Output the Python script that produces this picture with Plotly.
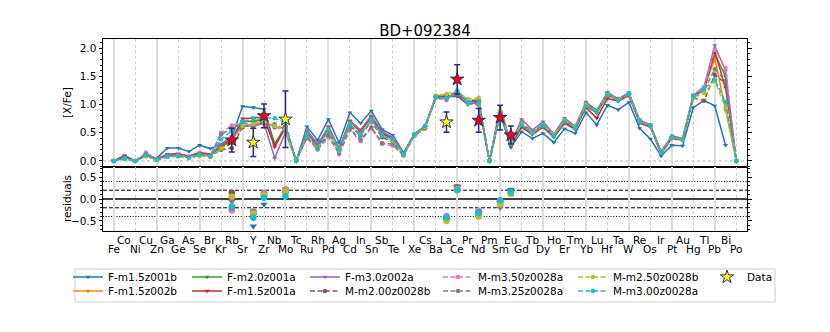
import plotly.graph_objects as go

# ---------------- data ----------------
elements = ["Fe", "Co", "Ni", "Cu", "Zn", "Ga", "Ge", "As", "Se", "Br",
            "Kr", "Rb", "Sr", "Y", "Zr", "Nb", "Mo", "Tc", "Ru", "Rh",
            "Pd", "Ag", "Cd", "In", "Sn", "Sb", "Te", "I", "Xe", "Cs",
            "Ba", "La", "Ce", "Pr", "Nd", "Pm", "Sm", "Eu", "Gd", "Tb",
            "Dy", "Ho", "Er", "Tm", "Yb", "Lu", "Hf", "Ta", "W", "Re",
            "Os", "Ir", "Pt", "Au", "Hg", "Tl", "Pb", "Bi", "Po"]
z_numbers = list(range(26, 85))

f_m15z001b = [0.00, 0.10, 0.00, 0.10, 0.05, 0.23, 0.23, 0.17, 0.28, 0.22,
              0.30, 0.42, 0.97, 0.95, 0.92, 0.30, 0.62, 0.00, 0.61, 0.37,
              0.74, 0.32, 0.86, 0.67, 0.89, 0.56, 0.46, 0.15, 0.48, 0.62,
              1.12, 1.14, 1.15, 1.00, 1.05, 0.00, 0.85, 0.24, 0.52, 0.40,
              0.49, 0.33, 0.57, 0.49, 0.86, 0.64, 0.99, 0.91, 1.04, 0.58,
              0.39, 0.09, 0.28, 0.27, 0.95, 1.07, 0.98, 0.28, None]
f_m15z002b = [0.00, 0.08, 0.00, 0.10, 0.03, 0.11, 0.12, 0.08, 0.14, 0.11,
              0.25, 0.35, 0.70, 0.71, 0.75, 0.28, 0.62, 0.00, 0.52, 0.27,
              0.62, 0.22, 0.72, 0.55, 0.80, 0.50, 0.42, 0.12, 0.46, 0.60,
              1.16, 1.14, 1.18, 1.06, 1.04, 0.00, 0.87, 0.28, 0.65, 0.50,
              0.65, 0.45, 0.72, 0.60, 1.00, 0.88, 1.18, 1.08, 1.20, 0.70,
              0.63, 0.15, 0.42, 0.39, 1.15, 1.28, 1.82, 0.90, 0.00]
f_m20z001a = [0.00, 0.07, 0.00, 0.10, 0.03, 0.10, 0.12, 0.08, 0.13, 0.10,
              0.25, 0.37, 0.70, 0.70, 0.74, 0.30, 0.60, 0.00, 0.50, 0.25,
              0.60, 0.20, 0.70, 0.53, 0.78, 0.50, 0.40, 0.12, 0.46, 0.60,
              1.15, 1.15, 1.18, 1.05, 1.05, 0.00, 0.87, 0.29, 0.63, 0.50,
              0.64, 0.44, 0.70, 0.58, 0.98, 0.85, 1.17, 1.08, 1.19, 0.70,
              0.62, 0.15, 0.42, 0.38, 1.15, 1.30, 1.90, 1.50, 0.00]
f_m15z001a = [0.00, 0.08, 0.00, 0.11, 0.04, 0.12, 0.13, 0.09, 0.15, 0.12,
              0.28, 0.39, 0.75, 0.77, 0.78, 0.25, 0.59, 0.00, 0.50, 0.25,
              0.60, 0.20, 0.70, 0.52, 0.78, 0.48, 0.40, 0.12, 0.46, 0.60,
              1.13, 1.13, 1.18, 1.04, 1.04, 0.00, 0.85, 0.27, 0.60, 0.47,
              0.60, 0.42, 0.67, 0.56, 0.95, 0.76, 1.11, 1.06, 1.16, 0.67,
              0.60, 0.13, 0.40, 0.37, 1.13, 1.28, 1.94, 1.30, 0.00]
f_m30z002a = [0.00, 0.06, 0.00, 0.12, 0.03, 0.10, 0.11, 0.07, 0.12, 0.10,
              0.30, 0.43, 0.62, 0.62, 0.67, 0.05, 0.51, 0.00, 0.55, 0.30,
              0.60, 0.22, 0.70, 0.55, 0.80, 0.52, 0.42, 0.13, 0.47, 0.60,
              1.12, 1.12, 1.19, 1.06, 1.01, 0.00, 0.97, 0.32, 0.74, 0.55,
              0.70, 0.48, 0.76, 0.62, 1.05, 0.90, 1.22, 1.10, 1.21, 0.73,
              0.64, 0.17, 0.45, 0.40, 1.17, 1.32, 2.05, 1.60, 0.00]
m_m200z0028b = [0.00, 0.05, 0.00, 0.09, 0.02, 0.08, 0.09, 0.06, 0.10, 0.08,
                0.20, 0.23, 0.60, 0.66, 0.69, 0.60, 0.58, 0.00, 0.45, 0.22,
                0.50, 0.18, 0.62, 0.45, 0.70, 0.42, 0.34, 0.10, 0.45, 0.58,
                1.14, 1.16, 1.21, 1.08, 1.08, 0.00, 0.89, 0.33, 0.62, 0.50,
                0.62, 0.45, 0.70, 0.60, 0.98, 0.88, 1.18, 1.08, 1.18, 0.70,
                0.62, 0.15, 0.42, 0.38, 1.12, 1.07, 1.53, 1.38, 0.00]
m_m350z0028a = [0.00, 0.04, 0.00, 0.15, 0.03, 0.09, 0.10, 0.07, 0.12, 0.09,
                0.50, 0.63, 0.68, 0.61, 0.66, 0.62, 0.52, 0.00, 0.40, 0.20,
                0.42, 0.12, 0.55, 0.35, 0.58, 0.30, 0.27, 0.10, 0.45, 0.58,
                1.12, 1.08, 1.23, 1.02, 0.99, 0.00, 0.82, 0.34, 0.68, 0.52,
                0.65, 0.46, 0.72, 0.60, 1.00, 0.88, 1.20, 1.10, 1.20, 0.72,
                0.63, 0.16, 0.43, 0.39, 1.17, 1.30, 1.98, 1.65, 0.00]
m_m325z0028a = [0.00, 0.05, 0.00, 0.12, 0.03, 0.09, 0.10, 0.07, 0.12, 0.09,
                0.47, 0.57, 0.68, 0.63, 0.68, 0.65, 0.56, 0.00, 0.42, 0.22,
                0.45, 0.14, 0.57, 0.38, 0.60, 0.32, 0.30, 0.10, 0.45, 0.58,
                1.13, 1.11, 1.22, 1.04, 1.02, 0.00, 0.83, 0.34, 0.67, 0.52,
                0.65, 0.46, 0.72, 0.60, 1.02, 0.90, 1.20, 1.10, 1.20, 0.72,
                0.63, 0.16, 0.43, 0.39, 1.15, 1.25, 1.63, 1.42, 0.00]
m_m250z0028b = [0.00, 0.04, 0.00, 0.08, 0.02, 0.07, 0.08, 0.05, 0.09, 0.07,
                0.22, 0.32, 0.62, 0.66, 0.70, 0.62, 0.57, 0.00, 0.47, 0.23,
                0.55, 0.18, 0.65, 0.48, 0.72, 0.45, 0.36, 0.11, 0.45, 0.60,
                1.16, 1.19, 1.23, 1.10, 1.12, 0.00, 0.89, 0.34, 0.65, 0.50,
                0.64, 0.46, 0.72, 0.60, 1.00, 0.88, 1.18, 1.08, 1.19, 0.70,
                0.62, 0.15, 0.42, 0.38, 1.13, 1.20, 1.42, 0.95, 0.00]
m_m300z0028a = [0.00, 0.04, 0.00, 0.10, 0.02, 0.08, 0.09, 0.06, 0.11, 0.08,
                0.38, 0.54, 0.70, 0.75, 0.77, 0.76, 0.68, 0.00, 0.48, 0.22,
                0.55, 0.20, 0.65, 0.47, 0.72, 0.45, 0.38, 0.12, 0.47, 0.62,
                1.13, 1.11, 1.25, 1.04, 1.04, 0.00, 0.80, 0.30, 0.64, 0.50,
                0.63, 0.44, 0.70, 0.59, 0.97, 0.87, 1.18, 1.07, 1.19, 0.70,
                0.62, 0.15, 0.42, 0.38, 1.15, 1.28, 1.45, 1.05, 0.00]

# observed abundances
obs_elements = ["Rb", "Y", "Zr", "Mo", "La", "Ce", "Nd", "Sm", "Eu"]
obs_z = [37, 39, 40, 42, 57, 58, 60, 62, 63]
obs_values = [0.37, 0.33, 0.80, 0.74, 0.69, 1.45, 0.72, 0.77, 0.46]
obs_errors = [0.21, 0.25, 0.21, 0.50, 0.18, 0.26, 0.21, 0.22, 0.16]
obs_is_yellow = [False, True, False, True, True, False, False, False, False]

# residuals (data - model) at the observed elements
res_f_m15z001b = [-0.03, -0.62, -0.12, 0.12, -0.45, 0.30, -0.33, -0.08, 0.22]
res_f_m15z002b = [0.02, -0.38, 0.05, 0.12, -0.45, 0.27, -0.32, -0.10, 0.18]
res_f_m20z001a = [0.00, -0.37, 0.06, 0.14, -0.46, 0.27, -0.33, -0.10, 0.17]
res_f_m15z001a = [-0.02, -0.44, 0.02, 0.15, -0.44, 0.27, -0.32, -0.08, 0.19]
res_f_m30z002a = [-0.06, -0.29, 0.13, 0.23, -0.43, 0.26, -0.29, -0.20, 0.14]
res_m_m200z0028b = [0.14, -0.33, 0.11, 0.16, -0.47, 0.24, -0.36, -0.12, 0.13]
res_m_m350z0028a = [-0.26, -0.28, 0.14, 0.22, -0.39, 0.22, -0.27, -0.05, 0.12]
res_m_m325z0028a = [-0.20, -0.30, 0.12, 0.18, -0.42, 0.23, -0.30, -0.06, 0.12]
res_m_m250z0028b = [0.05, -0.33, 0.10, 0.17, -0.50, 0.22, -0.40, -0.12, 0.12]
res_m_m300z0028a = [-0.17, -0.42, 0.03, 0.06, -0.42, 0.20, -0.32, -0.03, 0.16]

model_names = ["F-m1.5z001b", "F-m1.5z002b", "F-m2.0z001a", "F-m1.5z001a",
               "F-m3.0z002a", "M-m2.00z0028b", "M-m3.50z0028a",
               "M-m3.25z0028a", "M-m2.50z0028b", "M-m3.00z0028a"]
model_values = [f_m15z001b, f_m15z002b, f_m20z001a, f_m15z001a, f_m30z002a,
                m_m200z0028b, m_m350z0028a, m_m325z0028a, m_m250z0028b,
                m_m300z0028a]
model_residuals = [res_f_m15z001b, res_f_m15z002b, res_f_m20z001a,
                   res_f_m15z001a, res_f_m30z002a, res_m_m200z0028b,
                   res_m_m350z0028a, res_m_m325z0028a, res_m_m250z0028b,
                   res_m_m300z0028a]
colors = ["#1f77b4", "#ff7f0e", "#2ca02c", "#d62728", "#9467bd",
          "#8c564b", "#e377c2", "#7f7f7f", "#bcbd22", "#17becf"]

# ---------------- layout helpers ----------------
W, H = 830, 332
L, R, T, B = 103, 83, 39, 101
PW, PH = W - L - R, H - T - B


def px_x(px):
    return (px - L) / PW


def px_y(py):
    return (H - B - py) / PH


FONT = "DejaVu Sans"
legend_slots = [("legend", 108, 277), ("legend2", 108, 291),
                ("legend3", 227, 277), ("legend4", 227, 291),
                ("legend5", 345, 277), ("legend6", 345, 291),
                ("legend7", 478, 277), ("legend8", 478, 291),
                ("legend9", 613, 277), ("legend10", 613, 291)]
data_slot = ("legend11", 747, 277)

fig = go.Figure()

for i, (name, vals, col) in enumerate(zip(model_names, model_values, colors)):
    is_f = name.startswith("F")
    fig.add_trace(go.Scatter(
        x=z_numbers, y=vals, name=name, mode="lines+markers",
        line=dict(color=col, width=1.5, dash="solid" if is_f else "5px,2.5px"),
        marker=dict(symbol="triangle-down" if is_f else "circle",
                    size=4.5, color=col, line=dict(width=0)),
        connectgaps=False, legend=legend_slots[i][0],
        xaxis="x", yaxis="y"))

# data stars
for yellow in (True, False):
    xs = [z for z, f in zip(obs_z, obs_is_yellow) if f == yellow]
    ys = [v for v, f in zip(obs_values, obs_is_yellow) if f == yellow]
    es = [e for e, f in zip(obs_errors, obs_is_yellow) if f == yellow]
    fig.add_trace(go.Scatter(
        x=xs, y=ys, mode="markers", name="Data",
        showlegend=yellow, legend=data_slot[0],
        marker=dict(symbol="star", size=10,
                    color="#ffff00" if yellow else "#ff0000",
                    line=dict(color="#2b2b7a", width=1)),
        error_y=dict(type="data", array=es, color="#2b2b7a",
                     thickness=1.5, width=3),
        xaxis="x", yaxis="y"))

# residuals
for name, res, col in zip(model_names, model_residuals, colors):
    is_f = name.startswith("F")
    fig.add_trace(go.Scatter(
        x=obs_z, y=res, mode="markers", showlegend=False,
        marker=dict(symbol="triangle-down" if is_f else "circle",
                    size=6.5, color=col, line=dict(width=0)),
        xaxis="x2", yaxis="y2"))

xaxis_common = dict(
    range=[25, 85], autorange=False, showticklabels=False, ticks="",
    showgrid=True, gridcolor="#dcdcdc", gridwidth=1.6, tick0=26, dtick=4,
    tickmode="linear",
    minor=dict(showgrid=True, tick0=26, dtick=2, griddash="3px,2.5px",
               gridcolor="#cfcfcf", gridwidth=0.9),
    showline=True, linecolor="black", linewidth=1, mirror=True,
    zeroline=False)
yaxis_common = dict(
    showgrid=False, zeroline=False, showline=True, linecolor="black",
    linewidth=1, mirror="allticks", ticks="outside", ticklen=3.5,
    tickwidth=1, tickcolor="black", tickformat=".1f", autorange=False,
    tickfont=dict(size=10.5, color="black", family=FONT),
    minor=dict(ticks="outside", ticklen=2, tickwidth=0.8,
               tickcolor="black", dtick=0.1))

layout_legends = {}
for lid, tx, ty in legend_slots + [data_slot]:
    layout_legends[lid] = dict(
        x=px_x(tx - 40), y=px_y(ty), xanchor="left", yanchor="middle",
        bgcolor="rgba(0,0,0,0)", borderwidth=0,
        font=dict(size=10.5, family=FONT, color="black"),
        itemwidth=30, tracegroupgap=0)

shapes = [
    dict(type="rect", xref="paper", yref="paper",
         x0=px_x(75), x1=px_x(775), y0=px_y(269), y1=px_y(302),
         line=dict(color="#cccccc", width=1), fillcolor="rgba(0,0,0,0)",
         layer="above"),
    dict(type="line", xref="paper", yref="y", x0=0, x1=1, y0=0, y1=0,
         line=dict(color="#b0b0b0", width=1, dash="3px,2.5px"), layer="below"),
    dict(type="line", xref="paper", yref="y2", x0=0, x1=1, y0=0, y1=0,
         line=dict(color="black", width=1.3), layer="below"),
    dict(type="line", xref="paper", yref="y2", x0=0, x1=1, y0=0.2, y1=0.2,
         line=dict(color="black", width=1, dash="4px,2px"), layer="below"),
    dict(type="line", xref="paper", yref="y2", x0=0, x1=1, y0=-0.2, y1=-0.2,
         line=dict(color="black", width=1, dash="4px,2px"), layer="below"),
    dict(type="line", xref="paper", yref="y2", x0=0, x1=1, y0=0.4, y1=0.4,
         line=dict(color="black", width=1, dash="1px,1.7px"), layer="below"),
    dict(type="line", xref="paper", yref="y2", x0=0, x1=1, y0=-0.4, y1=-0.4,
         line=dict(color="black", width=1, dash="1px,1.7px"), layer="below"),
]

annotations = []
for z, el in zip(z_numbers, elements):
    annotations.append(dict(
        x=z, xref="x2", y=px_y(240) if z % 2 == 1 else px_y(249),
        yref="paper", text=el, showarrow=False, xanchor="center",
        yanchor="middle", font=dict(size=10.5, family=FONT, color="black")))
annotations.append(dict(x=px_x(67), y=px_y(103), xref="paper", yref="paper",
                        text="[X/Fe]", textangle=-90, showarrow=False,
                        xanchor="center", yanchor="middle",
                        font=dict(size=10.5, family=FONT, color="black")))
annotations.append(dict(x=px_x(67), y=px_y(199), xref="paper", yref="paper",
                        text="residuals", textangle=-90, showarrow=False,
                        xanchor="center", yanchor="middle",
                        font=dict(size=10.5, family=FONT, color="black")))

split = (231 - 167) / PH

fig.update_layout(
    width=W, height=H,
    margin=dict(l=L, r=R, t=T, b=B, pad=0, autoexpand=False),
    paper_bgcolor="white", plot_bgcolor="white",
    font=dict(family=FONT, size=10.5, color="black"),
    title=dict(text="BD+092384", x=0.5, xref="paper", xanchor="center",
               y=1 - 31 / H, yref="container", yanchor="middle",
               font=dict(size=15, family=FONT, color="black")),
    xaxis=dict(domain=[0, 1], anchor="y", **xaxis_common),
    xaxis2=dict(domain=[0, 1], anchor="y2", **xaxis_common),
    yaxis=dict(domain=[split, 1], anchor="x", range=[-0.107, 2.165],
               dtick=0.5, tick0=0, **yaxis_common),
    yaxis2=dict(domain=[0, split], anchor="x2", range=[-0.73, 0.73],
                dtick=0.5, tick0=0, **yaxis_common),
    shapes=shapes, annotations=annotations,
    **layout_legends)

fig.write_html(
    "out.html",
    config={"displayModeBar": False},
    post_script="document.body.style.margin='0';"
                "document.body.style.padding='0';"
                "document.body.style.overflow='hidden';")
